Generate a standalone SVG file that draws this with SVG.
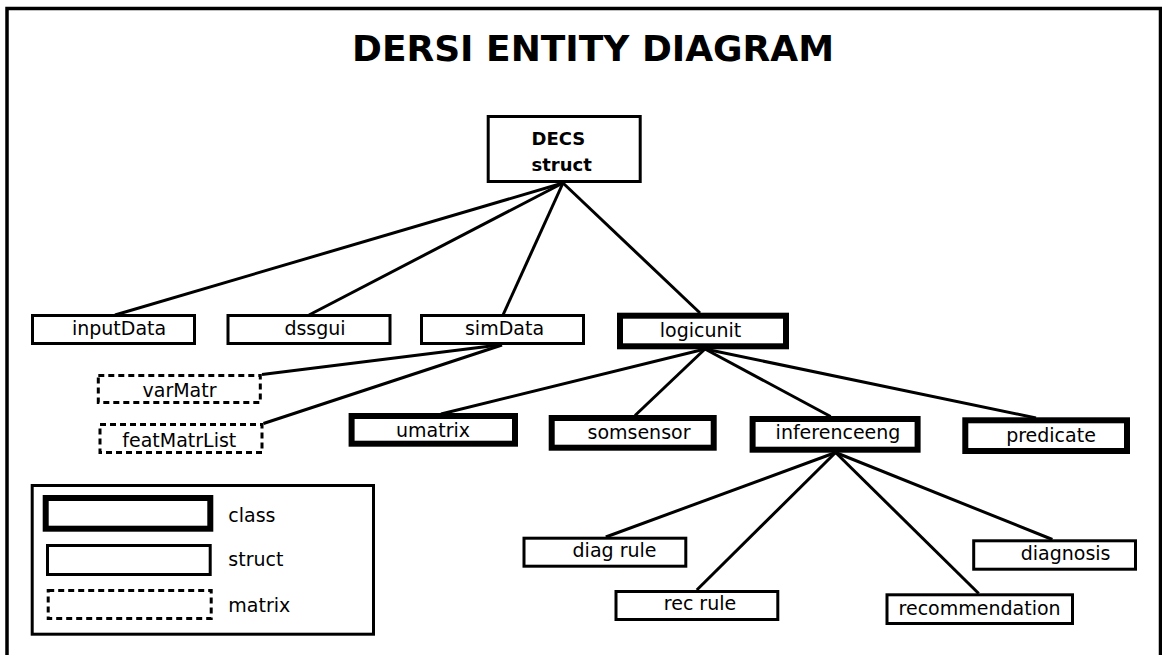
<svg xmlns="http://www.w3.org/2000/svg" width="1162" height="655" viewBox="0 0 1162 655">
<style>
  .box{fill:#fff;stroke:#000;stroke-width:3}
  .cls{fill:#fff;stroke:#000;stroke-width:6}
  .mat{fill:#fff;stroke:#000;stroke-width:3;stroke-dasharray:6 4}
  .t{font-family:"DejaVu Sans",sans-serif;font-size:19px;fill:#000;text-anchor:middle}
  .lt{font-family:"DejaVu Sans",sans-serif;font-size:19px;fill:#000}
  .b{font-family:"DejaVu Sans",sans-serif;font-weight:bold;font-size:18px;fill:#000}
  .conn line{stroke:#000;stroke-width:3}
</style>
<rect width="1162" height="655" fill="#fff"/>
<path d="M7,700 V8.5 H1160.5 V700" fill="none" stroke="#000" stroke-width="3.5"/>
<text x="593" y="61" text-anchor="middle" style="font-family:'DejaVu Sans',sans-serif;font-weight:bold;font-size:36px">DERSI ENTITY DIAGRAM</text>
<g id="connectors" class="conn">
  <line x1="563" y1="183" x2="115" y2="315"/>
  <line x1="563" y1="183" x2="309" y2="315"/>
  <line x1="563" y1="183" x2="503" y2="315"/>
  <line x1="563" y1="183" x2="700" y2="313"/>
  <line x1="499" y1="345" x2="262" y2="374.5"/>
  <line x1="502" y1="345" x2="263.5" y2="423.5"/>
  <line x1="705" y1="349" x2="441" y2="414"/>
  <line x1="705" y1="349" x2="635" y2="415.5"/>
  <line x1="705" y1="349" x2="830.6" y2="416.5"/>
  <line x1="705" y1="349" x2="1036" y2="418"/>
  <line x1="835.6" y1="452.5" x2="605.8" y2="537"/>
  <line x1="835.6" y1="452.5" x2="696.8" y2="590"/>
  <line x1="835.6" y1="452.5" x2="978.7" y2="593.5"/>
  <line x1="835.6" y1="452.5" x2="1052.4" y2="539.5"/>
</g>
<g id="decs"><rect class="box" x="488.2" y="116.5" width="152" height="65"/><text class="b" x="531.5" y="145">DECS</text><text class="b" x="531.5" y="171">struct</text></g>
<g id="inputData"><rect class="box" x="32.5" y="315.5" width="162" height="28"/><text class="t" x="119" y="335">inputData</text></g>
<g id="dssgui"><rect class="box" x="228" y="315.5" width="162" height="28"/><text class="t" x="315" y="335">dssgui</text></g>
<g id="simData"><rect class="box" x="421.5" y="315.5" width="162" height="28"/><text class="t" x="504.5" y="335">simData</text></g>
<g id="logicunit"><rect class="cls" x="620" y="315.7" width="166" height="30.6"/><text class="t" x="700.5" y="337">logicunit</text></g>
<g id="varMatr"><rect class="mat" x="98.3" y="375.5" width="162" height="27"/><text class="t" x="179.5" y="397">varMatr</text></g>
<g id="featMatrList"><rect class="mat" x="100" y="424.5" width="162" height="28"/><text class="t" x="179.3" y="447">featMatrList</text></g>
<g id="umatrix"><rect class="cls" x="351.6" y="416" width="163.4" height="27.7"/><text class="t" x="433" y="437">umatrix</text></g>
<g id="somsensor"><rect class="cls" x="551.7" y="418" width="162" height="29.7"/><text class="t" x="639" y="438.5">somsensor</text></g>
<g id="inferenceeng"><rect class="cls" x="752.6" y="419" width="165" height="30.7"/><text class="t" x="838" y="438.5">inferenceeng</text></g>
<g id="predicate"><rect class="cls" x="965.3" y="420.3" width="161.7" height="30.7"/><text class="t" x="1051" y="442">predicate</text></g>
<g id="diagRule"><rect class="box" x="524" y="538.2" width="161.8" height="28"/><text class="t" x="614.5" y="557">diag rule</text></g>
<g id="recRule"><rect class="box" x="616" y="591.5" width="161.8" height="28"/><text class="t" x="700" y="610">rec rule</text></g>
<g id="recommendation"><rect class="box" x="887" y="594.8" width="185.5" height="28.7"/><text class="t" x="979.6" y="615">recommendation</text></g>
<g id="diagnosis"><rect class="box" x="973.7" y="540.8" width="161.8" height="28.4"/><text class="t" x="1065.6" y="559.5">diagnosis</text></g>
<g id="legend">
  <rect class="box" x="32.2" y="485.5" width="341.3" height="148.7"/>
  <rect class="cls" x="45.7" y="498" width="164.6" height="30.7"/><text class="lt" x="228.3" y="521.7">class</text>
  <rect class="box" x="47.5" y="545.5" width="162.7" height="29"/><text class="lt" x="228.3" y="566">struct</text>
  <rect class="mat" x="48.2" y="590.5" width="163" height="28"/><text class="lt" x="228.3" y="611.7">matrix</text>
</g>
</svg>
